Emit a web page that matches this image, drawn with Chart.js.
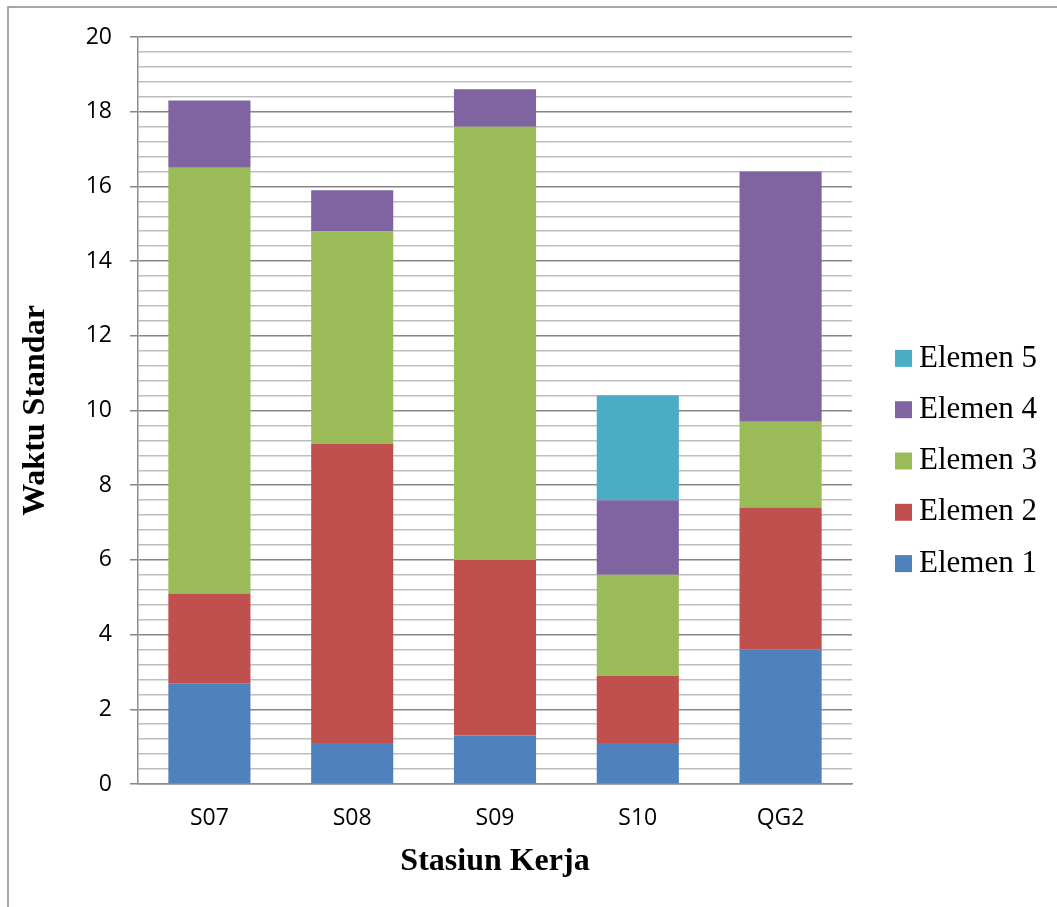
<!DOCTYPE html>
<html>
<head>
<meta charset="utf-8">
<script src="https://cdn.jsdelivr.net/npm/chart.js@4/dist/chart.umd.min.js"></script>
<style>
  html, body { margin: 0; padding: 0; background: #fff; }
  #wrap { width: 1057px; height: 907px; position: relative; }
</style>
</head>
<body>
<div id="wrap"><canvas id="chart" width="1057" height="907"></canvas></div>
<script>
// Work stations and standard time per work element
const stations = ['S07', 'S08', 'S09', 'S10', 'QG2'];
const elemen1 = [2.7, 1.1, 1.3, 1.1, 3.6];
const elemen2 = [2.4, 8.0, 4.7, 1.8, 3.8];
const elemen3 = [11.4, 5.7, 11.6, 2.7, 2.3];
const elemen4 = [1.8, 1.1, 1.0, 2.0, 6.7];
const elemen5 = [0, 0, 0, 2.8, 0];
const seriesNames = ['Elemen 1', 'Elemen 2', 'Elemen 3', 'Elemen 4', 'Elemen 5'];
const seriesColors = ['#4F81BD', '#C0504D', '#9BBB59', '#8064A2', '#4BACC6'];
const yMin = 0, yMax = 20, yMajorStep = 2, yMinorStep = 0.4;

const seriesValues = [elemen1, elemen2, elemen3, elemen4, elemen5];

const isMajor = v => Math.abs(v / yMajorStep - Math.round(v / yMajorStep)) < 1e-6;

// Grey frame around the whole figure
const framePlugin = {
  id: 'frame',
  beforeDraw(chart) {
    const ctx = chart.ctx;
    ctx.save();
    ctx.fillStyle = '#ffffff';
    ctx.fillRect(0, 0, chart.width, chart.height);
    ctx.strokeStyle = '#8c8c8c';
    ctx.lineWidth = 1.5;
    ctx.beginPath();
    ctx.moveTo(8, chart.height + 5);
    ctx.lineTo(8, 7);
    ctx.lineTo(chart.width + 5, 7);
    ctx.stroke();
    ctx.restore();
  }
};

// Legend on the right, last series on top
const sideLegend = {
  id: 'sideLegend',
  afterDraw(chart) {
    const ctx = chart.ctx;
    const area = chart.chartArea;
    const rowGap = 51.3;
    const box = 17;
    const boxX = area.right + 43;
    const textX = boxX + box + 7;
    const n = chart.data.datasets.length;
    const midY = 461;
    ctx.save();
    ctx.font = '31px "Liberation Serif", "Times New Roman", serif';
    ctx.textBaseline = 'middle';
    ctx.textAlign = 'left';
    for (let i = 0; i < n; i++) {
      const ds = chart.data.datasets[n - 1 - i];
      const cy = midY + (i - (n - 1) / 2) * rowGap;
      ctx.fillStyle = ds.backgroundColor;
      ctx.fillRect(boxX, cy - box / 2, box, box);
      ctx.fillStyle = '#000';
      ctx.fillText(ds.label, textX, cy);
    }
    ctx.restore();
  }
};

const datasets = seriesNames.map((name, i) => ({
  label: name,
  data: seriesValues[i],
  backgroundColor: seriesColors[i],
  borderWidth: 0,
  categoryPercentage: 0.575,
  barPercentage: 1.0
}));

new Chart(document.getElementById('chart'), {
  type: 'bar',
  data: { labels: stations, datasets },
  plugins: [framePlugin, sideLegend],
  options: {
    responsive: false,
    animation: false,
    devicePixelRatio: 1,
    layout: { padding: { left: 0, right: 205, top: 37, bottom: 0 } },
    plugins: {
      legend: { display: false },
      tooltip: { enabled: false }
    },
    scales: {
      x: {
        stacked: true,
        grid: { display: false, drawTicks: false },
        border: { display: true, color: '#8c8c8c', width: 1.5 },
        ticks: {
          padding: 21,
          color: '#000',
          font: { family: '"Open Sans", "Noto Sans", sans-serif', size: 23 }
        },
        title: {
          display: true,
          text: 'Stasiun Kerja',
          color: '#000',
          padding: { top: 0, bottom: 26 },
          font: { family: '"Liberation Serif", "Times New Roman", serif', size: 32, weight: 'bold' }
        },
        afterFit(scale) { scale.height = 123; }
      },
      y: {
        stacked: true,
        min: yMin,
        max: yMax,
        ticks: {
          stepSize: yMinorStep,
          autoSkip: false,
          padding: 18,
          color: '#000',
          font: { family: '"Open Sans", "Noto Sans", sans-serif', size: 23 },
          callback: v => (isMajor(v) ? String(Math.round(v)) : '')
        },
        grid: {
          drawTicks: true,
          tickLength: 8,
          lineWidth: 1.5,
          color: c => (c.tick && isMajor(c.tick.value) ? '#868686' : '#bdbdbd'),
          tickColor: c => (c.tick && isMajor(c.tick.value) ? '#868686' : 'rgba(0,0,0,0)')
        },
        border: { display: true, color: '#8c8c8c', width: 1.5 },
        title: {
          display: true,
          text: 'Waktu Standar',
          color: '#000',
          padding: { top: 17, bottom: 0 },
          font: { family: '"Liberation Serif", "Times New Roman", serif', size: 32, weight: 'bold' }
        },
        afterFit(scale) { scale.width = 138; }
      }
    }
  }
});
</script>
</body>
</html>
